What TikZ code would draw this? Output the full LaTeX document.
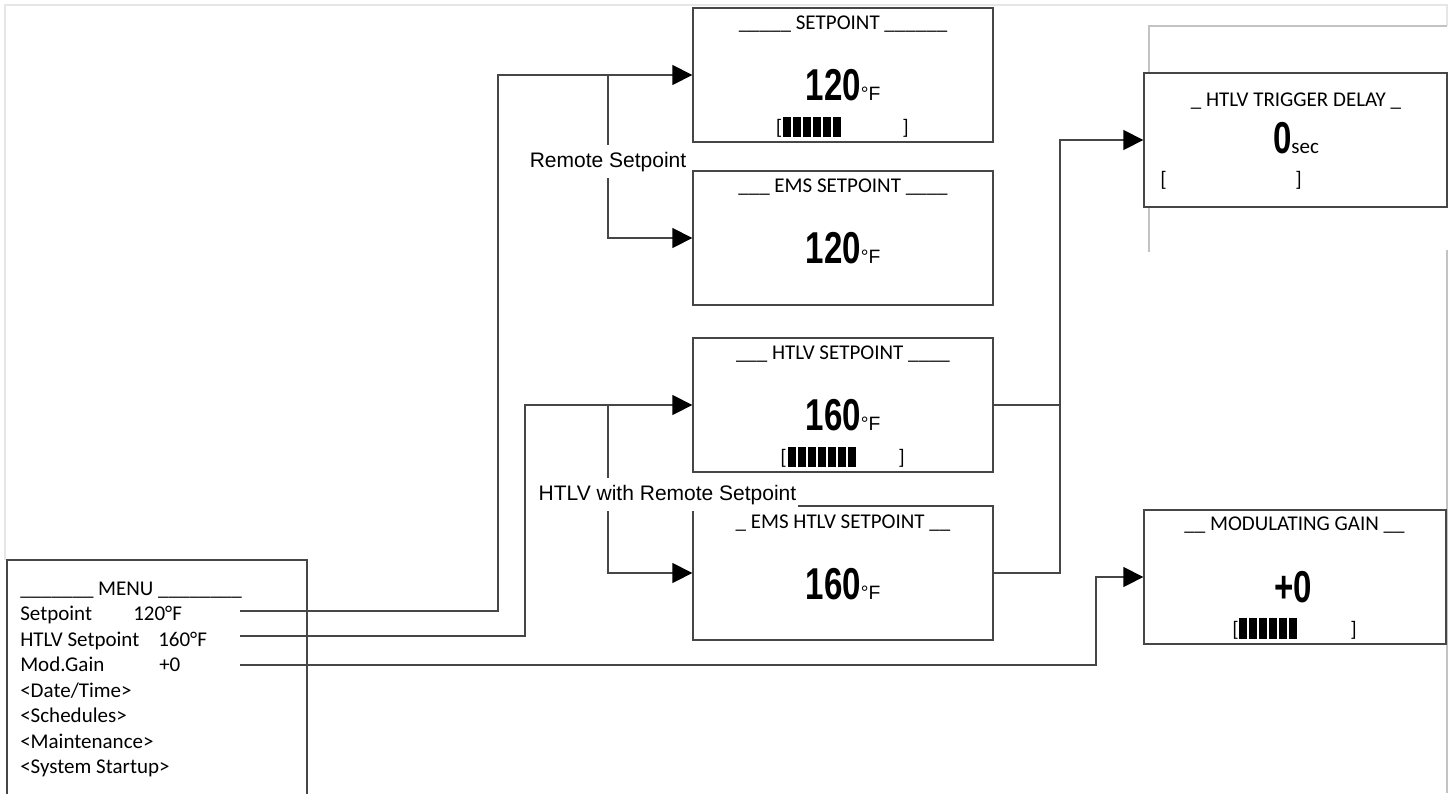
\documentclass[tikz,border=0pt]{standalone}
\usepackage{fontspec}
\setmainfont{Carlito}
\newfontfamily\numbf{Liberation Sans}[FakeStretch=0.74, UprightFont={* Bold}]
\newfontfamily\arialfont{Liberation Sans}
\usetikzlibrary{arrows.meta,fit}
\definecolor{linec}{RGB}{70,70,70}
\definecolor{framea}{RGB}{230,230,230}
\definecolor{frameb}{RGB}{195,195,195}
\newcommand{\calf}{\fontsize{15.75pt}{19pt}\selectfont}
\newcommand{\bignum}{\numbf\fontsize{33.5pt}{36pt}\selectfont}
\newcommand{\unitf}{\arialfont\fontsize{14.5pt}{16pt}\selectfont}
\newcommand{\lblf}{\arialfont\fontsize{15.75pt}{19pt}\selectfont}
\tikzset{
  box/.style={draw=linec, line width=1pt, inner sep=0pt},
  ln/.style={draw=linec, line width=1pt},
  arr/.style={ln, -{Triangle[length=15pt,width=15pt,black]}},
  ttl/.style={font=\calf, inner sep=0pt, anchor=base},
  mtxt/.style={font=\calf, inner sep=0pt, anchor=base west},
  num/.style={inner sep=0pt, anchor=base},
  brk/.style={font=\calf, inner sep=0pt, anchor=center},
  lbl/.style={font=\lblf, fill=white, inner xsep=1pt, inner ysep=5pt, anchor=base},
  frame1/.style={draw=framea, line width=0.8pt},
  frame2/.style={draw=frameb, line width=0.9pt}
}
\begin{document}
\begin{tikzpicture}[x=0.75pt,y=-0.75pt]
\useasboundingbox (0,0) rectangle (1452,793);
\fill[white] (0,0) rectangle (1452,793);

% faint screenshot frame lines
\draw[frame1] (5,560) -- (5,5) -- (1447,5) -- (1447,26);
\draw[frame2] (1149,73) -- (1149,26) -- (1447,26);
\draw[frame2] (1149,207) -- (1149,252);
\draw[frame2] (1447,250) -- (1447,793);

% ---------- boxes ----------
\node[box, fit={(7,560)(307,830)}] (menu) {};
\node[box, fit={(693,8)(993,142)}] (sp) {};
\node[box, fit={(693,171)(993,305)}] (ems) {};
\node[box, fit={(693,338)(993,472)}] (htlv) {};
\node[box, fit={(693,506)(993,640)}] (emsh) {};
\node[box, fit={(1144,73)(1447,207)}] (trig) {};
\node[box, fit={(1144,510)(1446,644)}] (mg) {};

% ---------- menu text ----------
\node[mtxt] (mt0) at (20,595) {\_\_\_\_\_\_\_ MENU \_\_\_\_\_\_\_\_};
\node[mtxt] (mt1) at (20,620.5) {Setpoint};
\node[mtxt] (mv1) at (133,620.5) {120°F};
\node[mtxt] (mt2) at (20,646) {HTLV Setpoint};
\node[mtxt] (mv2) at (158,646) {160°F};
\node[mtxt] (mt3) at (20,671.5) {Mod.Gain};
\node[mtxt] (mv3) at (159,671.5) {+0};
\node[mtxt] (mt4) at (20,697) {<Date/Time>};
\node[mtxt] (mt5) at (20,722.5) {<Schedules>};
\node[mtxt] (mt6) at (20,748) {<Maintenance>};
\node[mtxt] (mt7) at (20,773.5) {<System Startup>};

% ---------- SETPOINT ----------
\node[ttl] (sp-t) at (843,29) {\_\_\_\_\_ SETPOINT \_\_\_\_\_\_};
\node[num] (sp-n) at (843,100) {\bignum 120\unitf °F};
\node[brk] (sp-l) at (779,128.5) {[};
\node[brk] (sp-r) at (905.5,128.5) {]};
\foreach \i in {0,...,5} \fill (783+10*\i,117) rectangle ++(7.5,20);

% ---------- EMS SETPOINT ----------
\node[ttl] (ems-t) at (843,192) {\_\_\_ EMS SETPOINT \_\_\_\_};
\node[num] (ems-n) at (843,263) {\bignum 120\unitf °F};

% ---------- HTLV SETPOINT ----------
\node[ttl] (htlv-t) at (843,359) {\_\_\_ HTLV SETPOINT \_\_\_\_};
\node[num] (htlv-n) at (843,430) {\bignum 160\unitf °F};
\node[brk] (htlv-l) at (783.5,458.5) {[};
\node[brk] (htlv-r) at (901.5,458.5) {]};
\foreach \i in {0,...,6} \fill (788+10*\i,447) rectangle ++(7.5,20);

% ---------- EMS HTLV SETPOINT ----------
\node[ttl] (emsh-t) at (843,528) {\_ EMS HTLV SETPOINT \_\_};
\node[num] (emsh-n) at (843,599) {\bignum 160\unitf °F};

% ---------- HTLV TRIGGER DELAY ----------
\node[ttl] (trig-t) at (1296,106) {\_ HTLV TRIGGER DELAY \_};
\node[num] (trig-n) at (1296,153) {\bignum 0\rmfamily\calf sec};
\node[brk] (trig-l) at (1163.5,180) {[};
\node[brk] (trig-r) at (1298.5,180) {]};

% ---------- MODULATING GAIN ----------
\node[ttl] (mg-t) at (1294.5,530) {\_\_ MODULATING GAIN \_\_};
\node[num] (mg-n) at (1293.5,602) {\bignum +0};
\node[brk] (mg-l) at (1235.5,630) {[};
\node[brk] (mg-r) at (1353.5,630) {]};
\foreach \i in {0,...,5} \fill (1239+10*\i,618) rectangle ++(7.5,21);

% ---------- connectors ----------
\coordinate (m1) at (240,611);
\coordinate (m2) at (240,636);
\coordinate (m3) at (240,665);
\coordinate (j1) at (608,75);
\coordinate (j2) at (608,405);
\coordinate (c1) at (498,75);
\coordinate (c2) at (525,405);
\coordinate (c3) at (1060,140);
\coordinate (c4) at (1096,577);

\draw[arr] (m1) -| (c1) -- (sp.west);
\draw[arr] (j1) |- (ems.west);
\draw[arr] (m2) -| (c2) -- (htlv.west);
\draw[arr] (j2) |- (emsh.west);
\draw[ln] (htlv.east) -| (c3);
\draw[arr] (emsh.east) -| (c3) -- (trig.west);
\draw[arr] (m3) -| (c4) -- (mg.west);

% ---------- labels ----------
\node[lbl] (l1) at (608,167) {Remote Setpoint};
\node[lbl] (l2) at (667.5,500) {HTLV with Remote Setpoint};
\end{tikzpicture}
\end{document}
